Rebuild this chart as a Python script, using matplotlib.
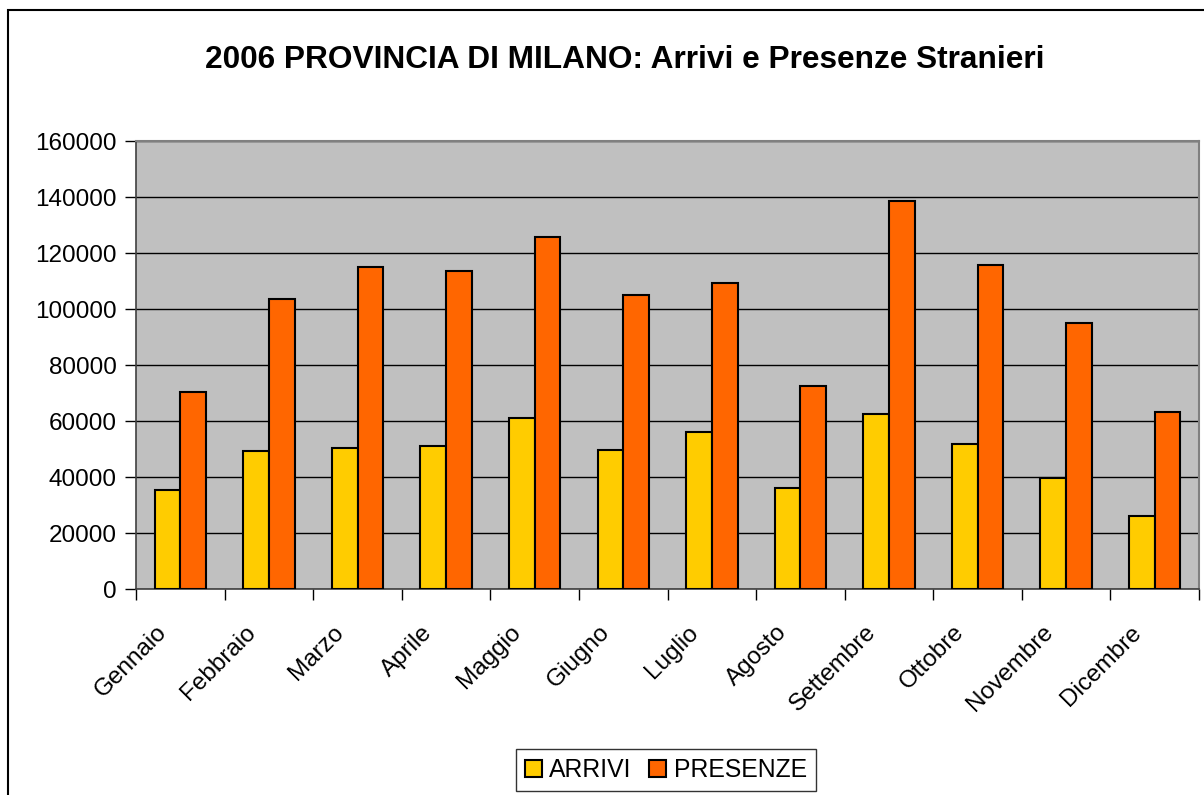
import numpy as np
import matplotlib
matplotlib.use("Agg")
import matplotlib.pyplot as plt
import matplotlib.patches as patches
import matplotlib.transforms as mtransforms

plt.rcParams['font.family'] = ['Liberation Sans', 'DejaVu Sans']

# data
mesi = ["Gennaio", "Febbraio", "Marzo", "Aprile", "Maggio", "Giugno",
        "Luglio", "Agosto", "Settembre", "Ottobre", "Novembre", "Dicembre"]
arrivi = [35600, 49200, 50600, 51300, 61300, 49900,
          56300, 36300, 62700, 52000, 39900, 26300]
presenze = [70600, 103500, 115000, 113500, 125600, 105000,
            109200, 72700, 138500, 115600, 95000, 63400]
y_ticks = [0, 20000, 40000, 60000, 80000, 100000, 120000, 140000, 160000]

col_arrivi = '#FFCC00'
col_presenze = '#FF6600'

fig = plt.figure(figsize=(12.04, 7.95), dpi=100)
ax = fig.add_axes([0.113, 0.2587, 0.8829, 0.5639])

x = np.arange(len(mesi))
width = 0.29

ax.bar(x - width/2, arrivi, width, color=col_arrivi, edgecolor='black',
       linewidth=1.5, label='ARRIVI', zorder=3)
ax.bar(x + width/2, presenze, width, color=col_presenze, edgecolor='black',
       linewidth=1.5, label='PRESENZE', zorder=3)

ax.set_facecolor('#C0C0C0')
ax.set_xlim(-0.5, len(mesi) - 0.5)
ax.set_ylim(0, 160000)
ax.set_yticks(y_ticks)
ax.set_yticklabels([str(v) for v in y_ticks], fontsize=17.5)
ax.yaxis.grid(True, color='black', linewidth=1.0, zorder=1)
ax.set_axisbelow(True)
ax.tick_params(axis='y', direction='out', length=8, width=1, pad=6)

# labels at centres, tick marks at category boundaries
ax.set_xticks(x)
ax.set_xticklabels(mesi, fontsize=17.5, rotation=45, ha='right')
ax.set_xticks(np.arange(-0.5, len(mesi)), minor=True)
ax.tick_params(axis='x', which='major', length=0, pad=23)
ax.tick_params(axis='x', which='minor', direction='out', length=8, width=1)
shift = mtransforms.ScaledTranslation(-9/100, 0, fig.dpi_scale_trans)
for lbl in ax.get_xticklabels():
    lbl.set_transform(lbl.get_transform() + shift)

for side in ['top', 'right']:
    ax.spines[side].set_color('#808080')
    ax.spines[side].set_linewidth(1.5)
for side in ['left', 'bottom']:
    ax.spines[side].set_color('#404040')
    ax.spines[side].set_linewidth(1.2)

fig.text(0.519, 0.9245, '2006 PROVINCIA DI MILANO: Arrivi e Presenze Stranieri',
         ha='center', va='center', fontsize=22.8, fontweight='bold')

leg = fig.legend(loc='center', bbox_to_anchor=(0.553, 0.0314), ncol=2,
                 fontsize=17.8, frameon=True, fancybox=False, edgecolor='black',
                 handlelength=0.7, handleheight=0.7, handletextpad=0.3,
                 columnspacing=0.7, borderpad=0.35)
leg.get_frame().set_linewidth(1.0)

# chart area border (cut off on the right and bottom in the original)
border = patches.Rectangle((8/1204, -0.1), 1.2, 0.9874 + 0.1,
                           transform=fig.transFigure, fill=False,
                           edgecolor='black', linewidth=1.5, clip_on=False)
fig.patches.append(border)

fig.savefig('out.png', dpi=100, facecolor='white')
